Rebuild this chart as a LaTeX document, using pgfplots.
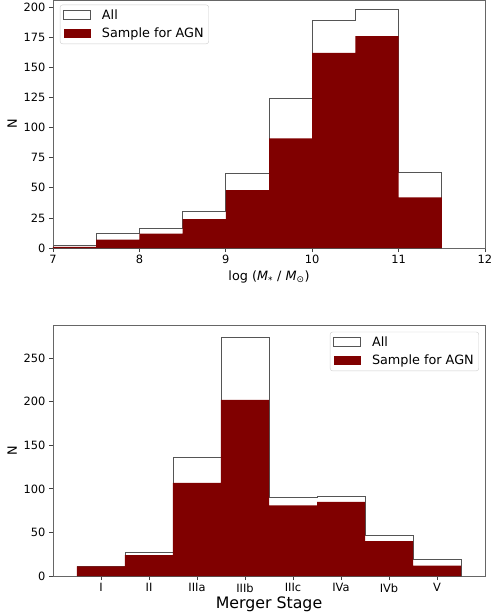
\documentclass[border=0pt]{standalone}
\usepackage{fontspec}
\setmainfont{DejaVu Sans}
\usepackage{pgfplots}
\pgfplotsset{compat=1.18}
\definecolor{agn}{HTML}{800000}
\definecolor{edge}{HTML}{555555}
\begin{document}
\begin{tikzpicture}
\useasboundingbox (-53bp,0) rectangle (450bp,-616bp);
\pgfplotsset{
  every axis/.append style={
    scale only axis, width=432bp,
    axis line style={black!60, line width=0.8bp},
    tick style={black!75, line width=0.8bp},
    tick align=outside, major tick length=4bp,
    xtick pos=bottom, ytick pos=left,
    /pgf/number format/assume math mode=true,
    tick label style={font=\fontsize{11.4bp}{13bp}\selectfont},
    label style={font=\fontsize{12.8bp}{15bp}\selectfont},
    legend style={font=\fontsize{12.8bp}{15bp}\selectfont, draw=black!20, rounded corners=2.5bp,
      inner xsep=3bp, inner ysep=2.5bp, row sep=3.5bp},
    legend cell align=left,
  },
  allstyle/.style={const plot, fill=white, draw=edge, line width=0.9bp,
    legend image code/.code={\draw[sharp corners, fill=white, draw=edge, line width=0.8bp] (0bp,-4.5bp) rectangle (27bp,4.5bp); \path (36bp,0bp);}},
  agnstyle/.style={const plot, fill=agn, draw=none,
    legend image code/.code={\fill[sharp corners, agn] (0bp,-4.5bp) rectangle (27bp,4.5bp); \path (36bp,0bp);}},
}
\begin{axis}[
  at={(0,0)}, anchor=north west,
  height=248bp,
  xmin=7, xmax=12, ymin=0, ymax=206,
  xtick={7,8,9,10,11,12},
  ytick={0,25,50,75,100,125,150,175,200},
  xlabel={log (\textit{M}\textsubscript{*} / \textit{M}\textsubscript{⊙})},
  ylabel={N},
  legend style={at={(0.016,0.981)}, anchor=north west},
]
\addplot[allstyle] coordinates {(7,2) (7.5,12) (8,16) (8.5,30) (9,62) (9.5,124) (10,189) (10.5,198) (11,63) (11.5,63)} \closedcycle;
\addlegendentry{All}
\addplot[agnstyle] coordinates {(7,1) (7.5,7) (8,12) (8.5,24) (9,48) (9.5,91) (10,162) (10.5,176) (11,42) (11.5,42)} \closedcycle;
\addlegendentry{Sample for AGN}
\end{axis}
\begin{axis}[
  at={(0,-325bp)}, anchor=north west,
  height=251bp,
  xmin=-1, xmax=8, ymin=0, ymax=288,
  xtick={0,1,2,3,4,5,6,7},
  xticklabels={I,II,IIIa,IIIb,IIIc,IVa,IVb,V},
  ytick={0,50,100,150,200,250},
  xlabel={Merger Stage},
  xlabel style={font=\fontsize{15.8bp}{18bp}\selectfont, yshift=2bp},
  ylabel={N},
  legend style={at={(0.986,0.973)}, anchor=north east},
]
\addplot[allstyle] coordinates {(-0.5,11) (0.5,27) (1.5,136) (2.5,274) (3.5,90) (4.5,91) (5.5,47) (6.5,19) (7.5,19)} \closedcycle;
\addlegendentry{All}
\addplot[agnstyle] coordinates {(-0.5,11) (0.5,24) (1.5,107) (2.5,202) (3.5,81) (4.5,85) (5.5,40) (6.5,12) (7.5,12)} \closedcycle;
\addlegendentry{Sample for AGN}
\end{axis}
\end{tikzpicture}
\end{document}
